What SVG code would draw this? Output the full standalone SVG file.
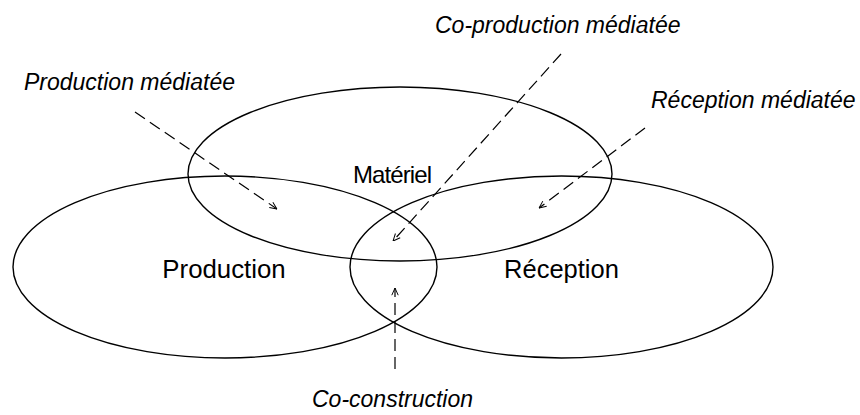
<svg xmlns="http://www.w3.org/2000/svg" width="860" height="415" viewBox="0 0 860 415">
<style>
.e{fill:none;stroke:#000;stroke-width:1.4}
.a{fill:none;stroke:#000;stroke-width:1.2;stroke-dasharray:12 6;marker-end:url(#ah)}
.t{font-family:"Liberation Sans",Arial,sans-serif;fill:#000}
.i{font-family:"Liberation Sans",Arial,sans-serif;font-style:italic;font-size:23px;fill:#000}
</style>
<defs>
<marker id="ah" viewBox="0 0 10 10" refX="10" refY="5" markerWidth="8" markerHeight="8" markerUnits="userSpaceOnUse" orient="auto">
<path d="M1,1 L10,5 L1,9" fill="none" stroke="#000" stroke-width="1.2"/>
</marker>
</defs>
<g id="production"><ellipse class="e" cx="225" cy="267" rx="212" ry="91"/><text class="t" x="224" y="278" font-size="25.8" text-anchor="middle">Production</text></g>
<g id="reception"><ellipse class="e" cx="561.5" cy="267" rx="211.5" ry="91"/><text class="t" x="561.5" y="278" font-size="25.5" text-anchor="middle">Réception</text></g>
<g id="materiel"><ellipse class="e" cx="400" cy="174" rx="212" ry="87"/><text class="t" x="353" y="183" font-size="24" textLength="79" lengthAdjust="spacing">Matériel</text></g>
<g id="labels">
<text class="i" x="24" y="90">Production médiatée</text>
<text class="i" x="435" y="33">Co-production médiatée</text>
<text class="i" x="651" y="108">Réception médiatée</text>
<text class="i" x="312" y="407">Co-construction</text>
</g>
<g id="connectors">
<line class="a" x1="135" y1="112" x2="277" y2="209"/>
<line class="a" x1="561" y1="54" x2="393" y2="241"/>
<line class="a" x1="645" y1="128" x2="539" y2="208"/>
<line class="a" x1="395" y1="369" x2="395" y2="288"/>
</g>
</svg>
